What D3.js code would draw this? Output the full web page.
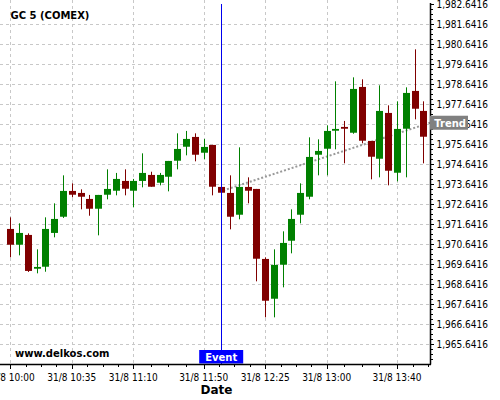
<!DOCTYPE html>
<html>
<head>
<meta charset="utf-8">
<script src="https://cdn.jsdelivr.net/npm/d3@7"></script>
<style>
  body { margin: 0; background: #fff; }
  svg { display: block; font-family: "DejaVu Sans", sans-serif; }
  .grid line { stroke: #c8c8c8; stroke-dasharray: 3,3; }
  .tick-label { font-family: "DejaVu Sans Condensed", "DejaVu Sans", sans-serif; font-size: 10px; fill: #000; }
</style>
</head>
<body>
<svg width="500" height="400"></svg>
<script>
// candle times (5 min bars, 31/8)
const times = [
  "10:00", "10:05", "10:10", "10:15", "10:20", "10:25", "10:30", "10:35", "10:40", "10:45", "10:50", "10:55",
  "11:00", "11:05", "11:10", "11:15", "11:20", "11:25", "11:30", "11:35", "11:40", "11:45", "11:50", "11:55",
  "12:00", "12:05", "12:10", "12:15", "12:20", "12:25", "12:30", "12:35", "12:40", "12:45", "12:50", "12:55",
  "13:00", "13:05", "13:10", "13:15", "13:20", "13:25", "13:30", "13:35", "13:40", "13:45", "13:50", "13:55"
];

const open = [
  1971.41, 1970.62, 1971.11, 1969.42, 1969.52, 1971.21, 1972.02, 1973.31, 1973.21, 1972.91, 1972.42, 1973.12,
  1973.32, 1973.81, 1973.32, 1973.81, 1974.11, 1973.72, 1974.02, 1974.82, 1975.52, 1976.01, 1975.22, 1975.61,
  1973.51, 1973.21, 1972.12, 1973.51, 1973.41, 1969.91, 1967.92, 1969.62, 1970.82, 1972.12, 1973.02, 1975.12,
  1975.42, 1976.32, 1976.51, 1976.22, 1978.51, 1975.81, 1974.92, 1977.21, 1974.22, 1976.42, 1978.31, 1977.31
];
const high = [
  1971.99, 1971.69, 1971.19, 1970.39, 1971.99, 1972.69, 1974.09, 1973.69, 1973.39, 1973.11, 1973.11, 1974.39,
  1974.21, 1974.39, 1973.91, 1975.19, 1974.27, 1974.21, 1974.81, 1976.19, 1976.31, 1976.19, 1975.91, 1975.61,
  1973.51, 1974.09, 1975.49, 1973.99, 1973.41, 1969.99, 1970.39, 1971.29, 1972.39, 1973.69, 1975.99, 1975.89,
  1976.59, 1978.79, 1976.81, 1978.99, 1978.89, 1975.81, 1978.59, 1977.59, 1977.79, 1978.49, 1980.39, 1977.79
];
const low = [
  1969.99, 1970.09, 1969.26, 1969.19, 1969.27, 1970.99, 1971.96, 1972.99, 1972.39, 1972.07, 1971.09, 1972.89,
  1973.09, 1973.09, 1972.49, 1973.49, 1973.52, 1973.59, 1973.29, 1974.39, 1975.09, 1974.79, 1974.89, 1973.09,
  1973.22, 1971.39, 1971.89, 1972.69, 1968.79, 1966.99, 1966.99, 1968.49, 1970.19, 1971.69, 1972.89, 1974.09,
  1974.09, 1975.39, 1974.69, 1976.17, 1975.69, 1973.89, 1973.99, 1973.59, 1973.79, 1973.99, 1976.89, 1974.69
];
const close = [
  1970.62, 1971.21, 1969.31, 1969.51, 1971.41, 1971.91, 1973.31, 1973.12, 1973.02, 1972.42, 1973.11, 1973.41,
  1973.91, 1973.42, 1973.81, 1974.21, 1973.52, 1974.11, 1974.81, 1975.41, 1975.91, 1975.12, 1975.51, 1973.52,
  1973.22, 1972.02, 1973.51, 1973.32, 1969.92, 1967.82, 1969.61, 1970.71, 1971.91, 1973.21, 1975.01, 1975.31,
  1976.31, 1976.41, 1976.42, 1978.41, 1975.82, 1975.02, 1977.31, 1974.32, 1976.41, 1978.21, 1977.42, 1976.02
];

const xTickTimes = ["10:00", "10:35", "11:10", "11:50", "12:25", "13:00", "13:40"];
const yTickValues = [
  1965.6416, 1966.6416, 1967.6416, 1968.6416, 1969.6416, 1970.6416, 1971.6416, 1972.6416, 1973.6416,
  1974.6416, 1975.6416, 1976.6416, 1977.6416, 1978.6416, 1979.6416, 1980.6416, 1981.6416, 1982.6416
];

const eventTime = "12:00";
const trendStartPrice = 1973.33;
const trendEndPrice = 1976.72;

const svg = d3.select("svg"),
      plotRight = 430,
      plotBottom = 364;

const parse = d3.timeParse("%H:%M");

const candles = times.map((t, i) => ({
  time: parse(t), open: open[i], high: high[i], low: low[i], close: close[i]
}));

const x = d3.scaleTime()
  .domain([parse(times[0]), parse(times[times.length - 1])])
  .range([10.3, 423.3]);

const y = d3.scaleLinear()
  .domain([1964.6416, 1982.6416])
  .range([plotBottom + 0.3, 4.3]);

// grid
const grid = svg.append("g").attr("class", "grid");
grid.selectAll("line.h")
  .data(yTickValues.slice(0, -1))
  .enter().append("line")
  .attr("class", "h")
  .attr("x1", 0).attr("x2", plotRight)
  .attr("y1", d => Math.round(y(d)) + 0.5)
  .attr("y2", d => Math.round(y(d)) + 0.5);
grid.selectAll("line.v")
  .data(xTickTimes)
  .enter().append("line")
  .attr("class", "v")
  .attr("x1", d => Math.round(x(parse(d))) + 0.5)
  .attr("x2", d => Math.round(x(parse(d))) + 0.5)
  .attr("y1", 0).attr("y2", plotBottom);

// trend line (drawn under candles)
const eventX = x(parse(eventTime));
svg.append("line")
  .attr("x1", eventX + 2).attr("y1", y(trendStartPrice))
  .attr("x2", plotRight).attr("y2", y(trendEndPrice))
  .attr("stroke", "#999")
  .attr("stroke-width", 2)
  .attr("stroke-dasharray", "2,2");

// candles
const candle = svg.append("g").selectAll("g")
  .data(candles)
  .enter().append("g")
  .attr("fill", d => d.close >= d.open ? "#008000" : "#800000")
  .attr("stroke", d => d.close >= d.open ? "#008000" : "#800000");

candle.append("line")
  .attr("x1", d => Math.round(x(d.time)) + 0.5)
  .attr("x2", d => Math.round(x(d.time)) + 0.5)
  .attr("y1", d => y(d.high))
  .attr("y2", d => y(d.low))
  .attr("stroke-width", 1);

candle.append("rect")
  .attr("x", d => Math.round(x(d.time)) - 3)
  .attr("width", 7)
  .attr("y", d => y(Math.max(d.open, d.close)))
  .attr("height", d => Math.max(1.5, Math.abs(y(d.open) - y(d.close))))
  .attr("stroke", "none");

// event marker
svg.append("line")
  .attr("x1", Math.round(eventX) + 0.5).attr("x2", Math.round(eventX) + 0.5)
  .attr("y1", 4).attr("y2", plotBottom)
  .attr("stroke", "#0000ee")
  .attr("stroke-width", 1);

svg.append("rect")
  .attr("x", eventX - 22).attr("y", 350)
  .attr("width", 44).attr("height", 13.5)
  .attr("fill", "#0000ff");
svg.append("text")
  .attr("x", eventX).attr("y", 360.5)
  .attr("text-anchor", "middle")
  .attr("font-weight", "bold")
  .attr("font-size", 10)
  .attr("fill", "#fff")
  .text("Event");

// axes
const yAxis = svg.append("g");
yAxis.append("line")
  .attr("x1", plotRight + 0.5).attr("x2", plotRight + 0.5)
  .attr("y1", 3).attr("y2", plotBottom + 0.5)
  .attr("stroke", "#000").attr("stroke-width", 1.5);

const yMinor = d3.range(1964.8916, 1982.7, 0.25)
  .filter(v => !yTickValues.some(t => Math.abs(t - v) < 0.01));
yAxis.selectAll("line.minor")
  .data(yMinor)
  .enter().append("line")
  .attr("x1", plotRight).attr("x2", plotRight + 3)
  .attr("y1", d => Math.round(y(d)) + 0.5)
  .attr("y2", d => Math.round(y(d)) + 0.5)
  .attr("stroke", "#000");
yAxis.selectAll("line.major")
  .data(yTickValues)
  .enter().append("line")
  .attr("x1", plotRight).attr("x2", plotRight + 4)
  .attr("y1", d => Math.round(y(d)) + 0.5)
  .attr("y2", d => Math.round(y(d)) + 0.5)
  .attr("stroke", "#000");
yAxis.selectAll("text")
  .data(yTickValues)
  .enter().append("text")
  .attr("class", "tick-label")
  .attr("x", 436.5)
  .attr("y", d => y(d))
  .attr("dy", "0.36em")
  .text(d => d3.format(",.4f")(d));

const xAxis = svg.append("g");
xAxis.append("line")
  .attr("x1", 0).attr("x2", plotRight + 1)
  .attr("y1", plotBottom + 0.5).attr("y2", plotBottom + 0.5)
  .attr("stroke", "#000").attr("stroke-width", 1.5);

const xMajor = xTickTimes.map(t => x(parse(t)));
const xMinor = [];
xMajor.forEach((v, i) => {
  const next = i < xMajor.length - 1 ? xMajor[i + 1] : null;
  const step = next !== null ? (next - v) / 4 : (v - xMajor[i - 1]) / 4.5;
  for (let k = 1; k < 4; k++) {
    const p = v + step * k;
    if (p < plotRight) xMinor.push(p);
  }
});
xAxis.selectAll("line.minor")
  .data(xMinor)
  .enter().append("line")
  .attr("x1", d => Math.round(d) + 0.5).attr("x2", d => Math.round(d) + 0.5)
  .attr("y1", plotBottom).attr("y2", plotBottom + 3)
  .attr("stroke", "#000");
xAxis.selectAll("line.major")
  .data(xMajor)
  .enter().append("line")
  .attr("x1", d => Math.round(d) + 0.5).attr("x2", d => Math.round(d) + 0.5)
  .attr("y1", plotBottom).attr("y2", plotBottom + 5)
  .attr("stroke", "#000");
xAxis.selectAll("text")
  .data(xTickTimes)
  .enter().append("text")
  .attr("class", "tick-label")
  .attr("x", d => x(parse(d)))
  .attr("y", 380.5)
  .attr("text-anchor", "middle")
  .text(d => "31/8 " + d);

// trend label
svg.append("rect")
  .attr("x", plotRight).attr("y", y(trendEndPrice) - 7)
  .attr("width", 38).attr("height", 14)
  .attr("fill", "#808080");
svg.append("text")
  .attr("x", 434.3).attr("y", y(trendEndPrice) + 3.8)
  .attr("font-weight", "bold")
  .attr("font-size", 10)
  .attr("fill", "#fff")
  .text("Trend");

// titles
svg.append("text")
  .attr("x", 10.5).attr("y", 19.3)
  .attr("font-weight", "bold")
  .attr("font-size", 10)
  .text("GC 5 (COMEX)");

svg.append("text")
  .attr("x", 15).attr("y", 357.3)
  .attr("font-weight", "bold")
  .attr("font-size", 10)
  .text("www.delkos.com");

svg.append("text")
  .attr("x", 216.5).attr("y", 393.5)
  .attr("text-anchor", "middle")
  .attr("font-weight", "bold")
  .attr("font-size", 12)
  .text("Date");
</script>
</body>
</html>
